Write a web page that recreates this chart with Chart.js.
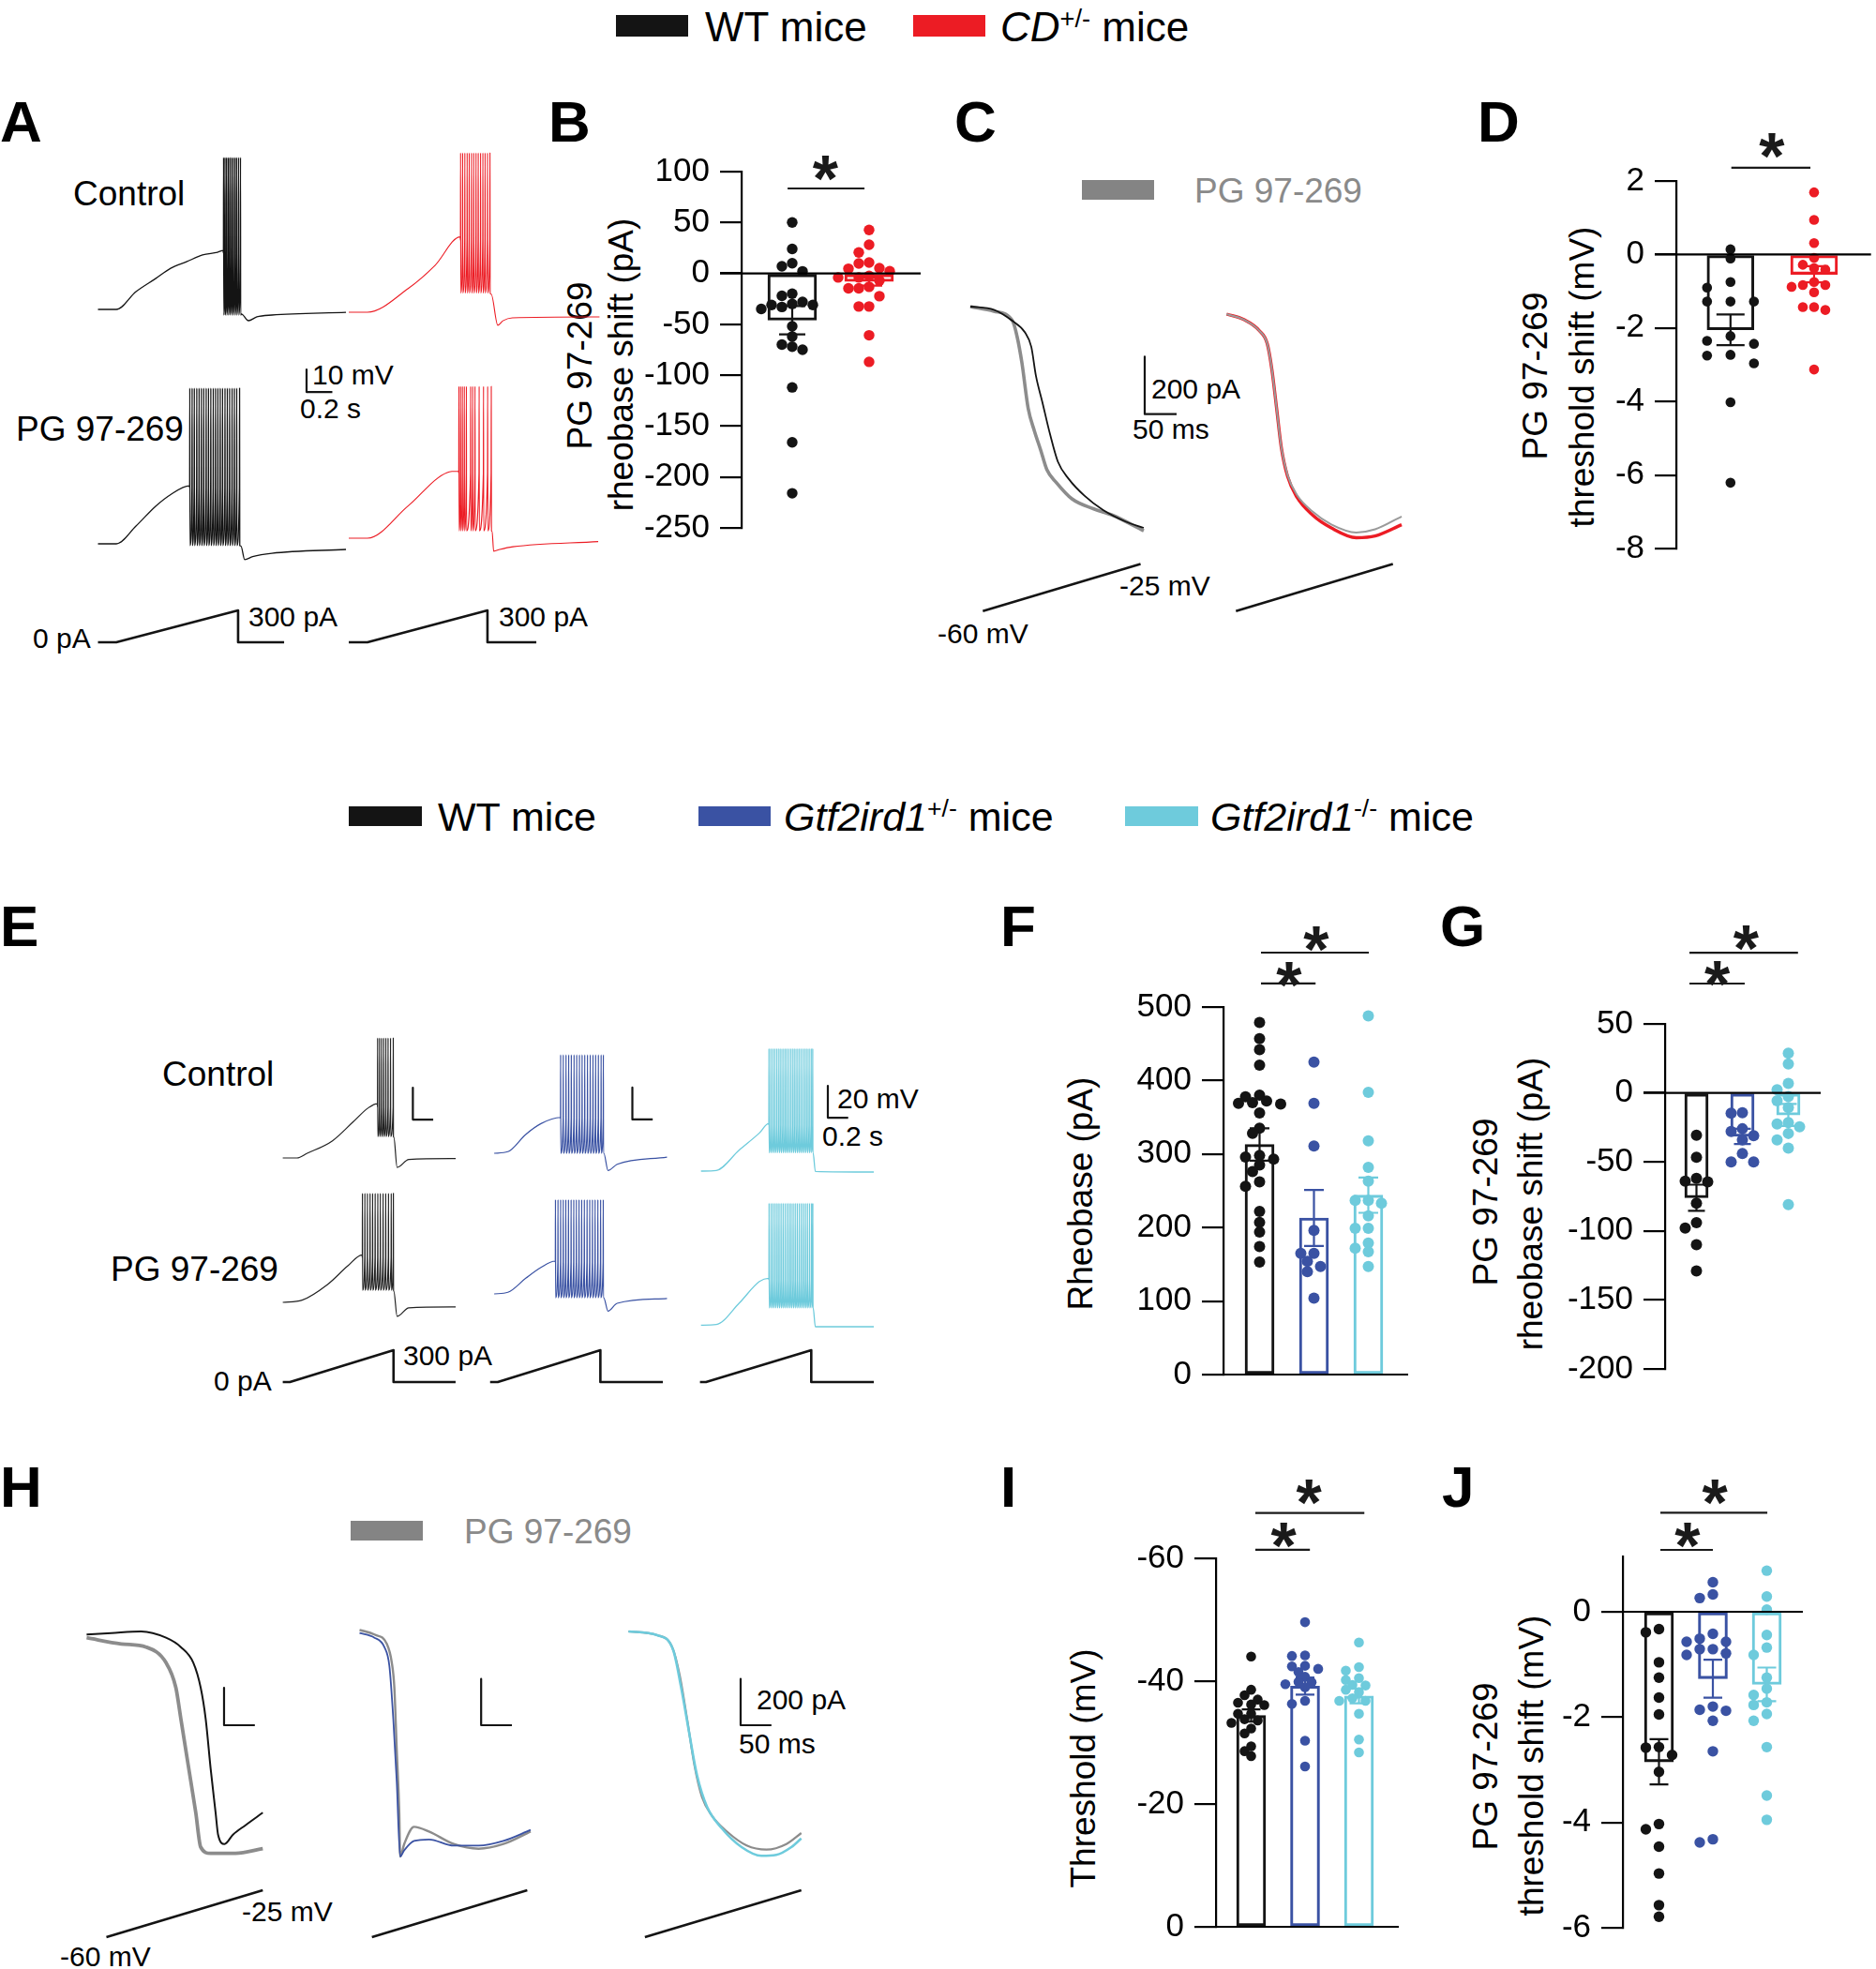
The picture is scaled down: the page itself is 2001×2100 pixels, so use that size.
<!DOCTYPE html>
<html><head><meta charset="utf-8">
<script src="https://cdn.jsdelivr.net/npm/chart.js@4.4.0/dist/chart.umd.min.js"></script>
<style>
html,body{margin:0;padding:0;background:#fff;width:2001px;height:2100px;overflow:hidden;}
body{position:relative;font-family:'Liberation Sans',Arial,Helvetica,sans-serif;color:#000;}
canvas{position:absolute;}
.t{position:absolute;white-space:nowrap;line-height:1;}
.r{position:absolute;white-space:nowrap;line-height:1;transform:translate(-50%,-50%) rotate(-90deg);font-size:37px;}
.sw{position:absolute;}
.L{position:absolute;font-weight:bold;line-height:1;font-size:62px;}
sup{font-size:0.62em;vertical-align:0.55em;line-height:0;}
</style></head><body>
<script>
// ===================== DATA =====================
// ---- B: PG 97-269 rheobase shift (pA) ----
const bWT = [50, 24, 10, 7, 2, -20, -22, -28, -30, -31, -31, -35, -33, -52, -62, -70, -75, -72, -112, -166, -216];
const bCD = [42.7, 28.2, 20.6, 10.7, 9.8, 5.2, 4.6, 2.1, -2.5, -4, -7, -4, -14.7, -14.7, -13.2, -22.4, -32.5, -32.5, -60.8, -86.9];
const bMean = [-46, -8];
const bSem = [14, 4];
const bTicks = [100, 50, 0, -50, -100, -150, -200, -250];
// ---- D: PG 97-269 threshold shift (mV) ----
const dWT = [0.14, -0.11, -0.9, -0.75, -1.28, -1.28, -1.28, -2.35, -2.43, -2.22, -2.73, -2.96, -2.75, -4.02, -6.21];
const dCD = [1.69, 0.94, 0.31, -0.09, -0.37, -0.41, -0.28, -0.75, -0.88, -0.83, -0.83, -1.03, -1.43, -1.51, -1.43, -3.13];
const dMean = [-2.05, -0.54];
const dSem = [0.42, 0.22];
const dTicks = [2, 0, -2, -4, -6, -8];
// ---- F: Rheobase (pA) ----
const fWT = [479, 457, 442, 421, 380, 378, 372, 370, 369, 368, 356, 335, 328, 298, 296, 293, 285, 276, 262, 256, 222, 207, 194, 174, 153];
const fHet = [425, 369, 311, 196, 154, 165, 165, 140, 147, 104];
const fKO = [488, 384, 318, 282, 263, 237, 233, 237, 216, 199, 199, 179, 172, 167, 147];
const fMean = [313, 213, 244];
const fSem = [22, 38, 24];
const fTicks = [500, 400, 300, 200, 100, 0];
// ---- G: PG 97-269 rheobase shift (pA) ----
const gWT = [-30.6, -46.6, -62, -64.5, -64, -80, -98, -94, -110, -129];
const gHet = [-14.7, -14.3, -26, -28, -31, -34, -44, -50, -50];
const gKO = [28.8, 21, 6.8, 2.3, -5.7, -2.7, -10.6, -22.6, -21.5, -24.5, -29.4, -34, -40, -81];
const gMean = [-76, -31.5, -16];
const gSem = [9.5, 5.5, 8];
const gTicks = [50, 0, -50, -100, -150, -200];
// ---- I: Threshold (mV) ----
const iWT = [-44, -38.6, -37.7, -37, -36.1, -36.2, -36.5, -34.7, -33.8, -34.7, -33.6, -33.2, -32.3, -31.5, -29.4, -27.8, -28.6];
const iHet = [-49.6, -44.1, -44.2, -42.5, -42.4, -42, -41.5, -40.7, -39.8, -39.9, -39.5, -39, -36.8, -36.3, -30.3, -26.1];
const iKO = [-46.3, -42.3, -41.7, -40.2, -40.5, -39.3, -39.4, -38.2, -38.6, -36.8, -36.8, -37.2, -34.7, -30.5, -28.4];
const iMean = [-34.4, -39.2, -37.6];
const iSem = [1.0, 1.4, 1.2];
const iTicks = [-60, -40, -20, 0];
// ---- J: PG 97-269 threshold shift (mV) ----
const jWT = [-0.39, -0.33, -0.96, -1.25, -1.63, -1.95, -2.58, -2.57, -2.72, -3.04, -4.03, -4.13, -4.46, -4.97, -5.57, -5.79];
const jHet = [0.56, 0.26, 0.33, -0.42, -0.57, -0.51, -0.57, -0.71, -0.79, -0.71, -0.82, -1.88, -1.8, -1.86, -2.07, -2.65, -4.38, -4.32];
const jKO = [0.78, 0.29, 0.04, -0.44, -0.68, -0.82, -1.25, -1.46, -1.58, -1.72, -1.77, -1.94, -2.07, -2.57, -3.49, -3.95];
const jMean = [-2.85, -1.27, -1.38];
const jSem = [0.43, 0.36, 0.32];
const jTicks = [0, -2, -4, -6];

// ---- A: current-clamp traces (time ms, membrane potential mV) ----
const aWtCtrlPre = [[0,-70],[142,-70],[295,-62.1],[447,-56.3],[564,-51.7],[687,-48.8],[811,-45.8],[927,-44.6],[971,-43.8]];
const aWtCtrlSpikes = [973,984,996,1009,1021,1034,1047,1061,1074,1089,1104];
const aWtCtrlLevels = [-45, -2.5, -72.5];           // threshold, peak, trough
const aWtCtrlPost = [[1112,-72],[1167,-75],[1233,-73.3],[1349,-72.5],[1924,-71.3]];
const aWtPgPre = [[0,-70],[142,-70],[295,-62.1],[447,-53.3],[564,-48.1],[709,-44.2]];
const aWtPgSpikes = [711,729,746,765,783,801,819,838,856,874,893,911,929,947,965,984,1002,1020,1039,1057,1075,1097];
const aWtPgLevels = [-45, -0.8, -70.8];
const aWtPgPost = [[1109,-71],[1138,-77],[1200,-75.7],[1349,-74.2],[1924,-72.5]];
const aCdCtrlPre = [[0,-70],[145,-70],[458,-59.6],[669,-49.2],[865,-36.5]];
const aCdCtrlSpikes = [866,882,899,917,933,951,968,986,1003,1021,1039,1056,1075,1094];
const aCdCtrlLevels = [-38, 0.8, -61.5];
const aCdCtrlPost = [[1105,-62],[1156,-75.8],[1196,-73.8],[1269,-72.5],[1945,-72.1]];
const aCdPgPre = [[0,-70],[145,-70],[458,-55.8],[764,-40.8],[851,-40.2]];
const aCdPgSpikes = [853,866,880,895,911,944,960,978,1010,1044,1076,1104];
const aCdPgLevels = [-41, -2.5, -66.7];
const aCdPgPost = [[1112,-67],[1124,-75.8],[1171,-75],[1273,-73.8],[1935,-71.5]];
const aWtStim = [[0,0],[142,0],[1087,300],[1087,0],[1444,0]];   // pA
const aCdStim = [[0,0],[145,0],[1076,300],[1076,0],[1455,0]];
const aScaleBar = [[1618,-96.7],[1618,-106.7],[1818,-106.7]];  // 10 mV / 200 ms

// ---- C: voltage-ramp currents (time ms, current pA) ----
const cWtCtrl = [[0,0],[36.8,-11],[66.2,-50],[85.7,-90],[95.6,-140],[102.9,-241],[112.8,-331],[125,-444],[137.2,-539],[154.4,-600],[178.9,-658],[208.3,-708],[242.6,-747],[272,-770]];
const cWtPg = [[0,0],[36.8,-16],[66.2,-50],[73.5,-106],[80.9,-196],[90.7,-354],[100.4,-432],[110.3,-499],[120.1,-568],[134.8,-612],[159.3,-669],[193.6,-704],[223,-726],[272,-780]];
const cCdCtrl = [[0,0],[27,-19],[51.5,-58],[63.8,-103],[71.1,-193],[78.5,-328],[85.8,-463],[95.6,-564],[110.3,-637],[134.8,-699],[164.3,-744],[203.5,-778],[233,-772],[274.6,-733]];
const cCdPg = [[0,0],[27,-19],[51.5,-58],[63.8,-103],[71.1,-193],[78.5,-328],[85.8,-463],[95.6,-560],[110.3,-629],[134.8,-687],[164.3,-732],[203.5,-760],[233,-749],[274.6,-704]];
const cRampWt = [[19.6,-60],[267,-25]];   // mV
const cRampCd = [[14.7,-60],[260.9,-25]];
const cScaleBar = [[273.5,-174.2],[273.5,-374.2],[323.5,-374.2]]; // 200 pA / 50 ms

// ---- E: current-clamp traces (time ms, mV) ----
const eWtCtrlPre = [[0,-70],[140,-70],[240,-67.1],[489,-59.2],[689,-47.5],[840,-38.6],[929,-35.9]];
const eWtCtrlSpikes = [931,950,970,991,1012,1034,1058,1085];
const eWtCtrlLevels = [-38, 5.3, -56.5];
const eWtCtrlPost = [[1092,-57],[1124,-75.9],[1239,-71],[1700,-70.4]];
const eWtPgPre = [[0,-70],[190,-68.6],[440,-58.8],[640,-47.1],[780,-40.2]];
const eWtPgSpikes = [782,806,831,857,882,907,933,958,985,1011,1038,1065,1086];
const eWtPgLevels = [-42, -1.6, -62.4];
const eWtPgPost = [[1092,-63],[1124,-78.8],[1239,-73.5],[1700,-72.9]];
const eHetCtrlPre = [[0,-70],[135,-69],[310,-58.2],[460,-51.4],[650,-47.5]];
const eHetCtrlSpikes = [652,678,705,731,757,784,810,837,863,889,916,943,970,996,1023,1050,1072];
const eHetCtrlLevels = [-48, -8.2, -70];
const eHetCtrlPost = [[1078,-70],[1119,-80.8],[1209,-76.9],[1699,-72.4]];
const eHetPgPre = [[0,-70],[135,-69],[310,-60.2],[460,-53.4],[599,-49.4]];
const eHetPgSpikes = [601,626,652,678,703,729,755,781,807,833,859,885,912,938,965,991,1018,1045,1071];
const eHetPgLevels = [-50, -10.8, -72.4];
const eHetPgPost = [[1077,-72.4],[1119,-80.8],[1209,-75.9],[1699,-72.9]];
const eKoCtrlPre = [[0,-70],[150,-69.6],[374,-56.9],[574,-46.1],[665,-40.2]];
const eKoCtrlSpikes = [667,686,706,725,745,765,784,804,824,843,863,883,903,922,942,962,982,1002,1022,1042,1062,1082,1097];
const eKoCtrlLevels = [-41, 6.9, -58.4];
const eKoCtrlPost = [[1102,-58.4],[1124,-70.2],[1699,-70.6]];
const eKoPgPre = [[0,-70],[150,-69.6],[374,-56.3],[574,-42.6],[665,-40.6]];
const eKoPgSpikes = [668,688,707,727,747,766,786,806,826,846,866,885,905,925,945,965,985,1005,1025,1045,1066,1086,1098];
const eKoPgLevels = [-41.5, 6.5, -59.2];
const eKoPgPost = [[1103,-59.2],[1124,-71],[1699,-71]];
const eWtStim = [[0,0],[70,0],[1089,300],[1089,0],[1699,0]];
const eHetStim = [[-40,0],[35,0],[1044,300],[1044,0],[1658,0]];
const eKoStim = [[-10,0],[49,0],[1084,300],[1084,0],[1699,0]];
const eWtScaleBar = [[1279,-25.9],[1279,-45.9],[1479,-45.9]];   // 20 mV / 200 ms
const eHetScaleBar = [[1358.5,-28.8],[1358.5,-48.8],[1558.5,-48.8]];
const eKoScaleBar = [[1247,-16.5],[1247,-36.5],[1447,-36.5]];

// ---- H: voltage-ramp currents (time ms, pA) ----
const hWt = [[0,0],[40.2,6.5],[88.6,13.4],[128.9,-13.8],[153,-54.3],[173.2,-121.6],[185.2,-229.8],[193.3,-364.8],[201.4,-581.3],[209.4,-770.2],[213.4,-865],[223.9,-905.6],[237.6,-865],[257.8,-824.5],[286,-770.2]];
const hWtPg = [[0,-13.8],[56.3,-40.5],[96.7,-54.3],[128.9,-121.6],[144.9,-229.8],[153,-364.8],[165.1,-567.5],[177.2,-770.2],[185.2,-919],[201.4,-946],[241.7,-946],[286,-925.8]];
const hHet = [[0,-13.4],[24.2,-33.8],[40.3,-74.4],[48.4,-155.4],[54.8,-385],[60.4,-655.3],[66,-980],[72.5,-953],[88.5,-912.4],[112.7,-905.9],[153,-932.7],[193.3,-932.7],[233.5,-912.4],[277.8,-865]];
const hHetPg = [[0,0],[24.2,-20.3],[44.3,-60.8],[52.4,-141.9],[56.5,-250],[60.4,-520.5],[64.5,-790.8],[66,-980],[72.5,-926],[88.5,-851.4],[112.7,-871.7],[153,-925.8],[193.3,-946],[233.5,-925.8],[277.8,-871.7]];
const hKo = [[0,0],[46.7,-16.2],[72.6,-81.1],[85.5,-243.2],[99,-445.9],[111.2,-621.4],[127.3,-756.8],[151.5,-851.2],[183.6,-932.3],[215.8,-970],[240,-966],[264.3,-932.3],[280.5,-894.6]];
const hKoPg = [[0,0],[46.7,-16.2],[70.9,-67.7],[83.1,-189.3],[95.1,-378.2],[107.2,-580.9],[119.3,-716.3],[135.5,-797.3],[159.5,-864.6],[191.8,-925.4],[224,-943.2],[256.3,-918.9],[280.5,-871.5]];
const hRampWt = [[32.1,-60],[286,-25]];
const hRampHet = [[20.1,-60],[272.3,-25]];
const hRampKo = [[26.6,-60],[280.5,-25]];
const hWtScaleBar = [[223.1,-230],[223.1,-392],[273.1,-392]];
const hHetScaleBar = [[197.4,-212.4],[197.4,-412.2],[247.4,-412.2]];
const hKoScaleBar = [[182,-205.5],[182,-405.3],[232,-405.3]];

// ===================== STYLE =====================
const BLACK = '#141414', RED = '#ec1c24', BLUE = '#3a52a3', CYAN = '#6ecbdc', GRAY = '#8c8c8c';
Chart.defaults.font.family = "'Liberation Sans', Arial, Helvetica, sans-serif";
Chart.defaults.color = '#000';
Chart.defaults.animation = false;

const DECOR = {};
Chart.register({
  id: 'decor',
  afterDatasetsDraw(chart) {
    const o = DECOR[chart.canvas.id];
    if (!o) return;
    const ctx = chart.ctx, xs = chart.scales.x, ys = chart.scales.y, ca = chart.chartArea;
    ctx.save();
    ctx.lineCap = 'butt';
    const y0 = ys.getPixelForValue(0);
    ctx.strokeStyle = '#000'; ctx.lineWidth = 2.2;
    ctx.beginPath(); ctx.moveTo(ca.left - 23, y0); ctx.lineTo(ca.right, y0); ctx.stroke();
    o.means.forEach((m, i) => {
      const cx = xs.getPixelForValue(i);
      const y1 = ys.getPixelForValue(m - o.sems[i]), y2 = ys.getPixelForValue(m + o.sems[i]);
      ctx.strokeStyle = o.colors[i]; ctx.lineWidth = 2.2;
      ctx.beginPath();
      ctx.moveTo(cx, y1); ctx.lineTo(cx, y2);
      ctx.moveTo(cx - o.cap / 2, y1); ctx.lineTo(cx + o.cap / 2, y1);
      ctx.moveTo(cx - o.cap / 2, y2); ctx.lineTo(cx + o.cap / 2, y2);
      ctx.stroke();
    });
    ctx.strokeStyle = '#1a1a1a'; ctx.lineWidth = 2.2;
    o.sig.lines.forEach(([a, b, v]) => {
      const y = ys.getPixelForValue(v);
      ctx.beginPath(); ctx.moveTo(xs.getPixelForValue(a), y); ctx.lineTo(xs.getPixelForValue(b), y); ctx.stroke();
    });
    ctx.fillStyle = '#1a1a1a';
    ctx.font = "bold 70px 'Liberation Sans', Arial, sans-serif";
    ctx.textAlign = 'center'; ctx.textBaseline = 'alphabetic';
    o.sig.stars.forEach(([a, v]) => {
      ctx.fillText('*', xs.getPixelForValue(a), ys.getPixelForValue(v) + 0.565 * 70);
    });
    ctx.restore();
  }
});

let cvCount = 0;
function mkCanvas(L, T, W, H) {
  const c = document.createElement('canvas');
  c.id = 'cv' + (cvCount++);
  c.width = Math.round(W); c.height = Math.round(H);
  c.style.left = L + 'px'; c.style.top = T + 'px';
  c.style.width = Math.round(W) + 'px'; c.style.height = Math.round(H) + 'px';
  document.body.appendChild(c);
  return c;
}

function swarm(chart, groups, steps, r, ov) {
  const xs = chart.scales.x, ys = chart.scales.y;
  const minD = 2 * r * ov;
  groups.forEach((vals, gi) => {
    const cx = xs.getPixelForValue(gi), step = steps[gi];
    const list = vals.map(v => ({ v, py: ys.getPixelForValue(v) })).sort((a, b) => a.py - b.py);
    const placed = [];
    list.forEach(p => {
      for (let k = 0; k < 80; k++) {
        const n = Math.ceil(k / 2), off = k === 0 ? 0 : (k % 2 ? -n : n) * step;
        const px = cx + off;
        if (placed.every(q => Math.hypot(q.px - px, q.py - p.py) >= minD)) { p.px = px; placed.push(p); break; }
      }
    });
    chart.data.datasets[gi].data = list.map(p => ({ x: xs.getValueForPixel(p.px), y: p.v }));
  });
  chart.update('none');
}

function barPanel(p) {
  const axisW = 160, padT = 130, padB = 40, padR = p.padR !== undefined ? p.padR : 12;
  const left = p.axisX - axisW, top = p.yTop - padT;
  const W = p.right + padR - left, H = p.yBot + padB - top;
  const cv = mkCanvas(left, top, W, H);
  const xmin = -(p.c0 - p.axisX) / p.step, xmax = (p.right - p.c0) / p.step;
  const datasets = p.groups.map((vals, i) => ({
    type: 'scatter', data: vals.map(v => ({ x: i, y: v })), backgroundColor: p.colors[i],
    borderWidth: 0, pointRadius: p.r, pointHoverRadius: p.r, order: 1, clip: false
  }));
  datasets.push({
    type: 'bar', data: p.means.map((m, i) => ({ x: i, y: m })), backgroundColor: 'rgba(255,255,255,0)',
    borderColor: p.colors, borderWidth: 2.4, borderSkipped: false, barThickness: p.barW, order: 2, clip: false
  });
  DECOR[cv.id] = { means: p.means, sems: p.sems, colors: p.colors, cap: p.cap, sig: p.sig };
  const chart = new Chart(cv, {
    type: 'scatter', data: { datasets },
    options: {
      responsive: false, animation: false, devicePixelRatio: 1,
      layout: { padding: { left: 0, top: padT, right: padR, bottom: padB } },
      plugins: { legend: { display: false }, tooltip: { enabled: false } },
      scales: {
        x: { type: 'linear', display: false, min: xmin, max: xmax, offset: false },
        y: {
          type: 'linear', min: p.min, max: p.max, reverse: !!p.reverse,
          afterFit: s => { s.width = axisW; },
          afterBuildTicks: s => { s.ticks = p.ticks.map(v => ({ value: v })); },
          ticks: { font: { size: 35 }, color: '#000', padding: 11, autoSkip: false, callback: v => String(v) },
          grid: { drawOnChartArea: false, drawTicks: true, tickLength: 23, color: '#000', lineWidth: 2.2 },
          border: { display: true, color: '#000', width: 2.2 }
        }
      }
    }
  });
  swarm(chart, p.groups, p.sw, p.r, p.ov || 0.92);
  return chart;
}

function P(a) { return a.map(([x, y]) => ({ x, y })); }
function train(pre, spikes, lv, post) {
  const out = P(pre);
  spikes.forEach(t => { out.push({ x: t, y: lv[0] }, { x: t + 1.5, y: lv[1] }, { x: t + 3, y: lv[2] }); });
  return out.concat(P(post));
}
function ln(data, color, w, axis, smooth) {
  return { data, borderColor: color, backgroundColor: color, borderWidth: w, showLine: true, pointRadius: 0,
    pointHoverRadius: 0, yAxisID: axis || 'y', borderJoinStyle: 'round', fill: false, clip: false,
    cubicInterpolationMode: smooth ? 'monotone' : 'default', tension: 0 };
}
function traceChart(rect, xo, ymaps, datasets) {
  const [L, T, W, H] = rect;
  const cv = mkCanvas(L, T, W, H);
  const scales = { x: { type: 'linear', display: false, min: (L - xo.px) / xo.s, max: (L + W - xo.px) / xo.s } };
  for (const id of Object.keys(ymaps)) {
    const m = ymaps[id];
    scales[id] = { type: 'linear', display: false, position: 'left',
      max: m.v + (m.px - T) / m.s, min: m.v - (T + H - m.px) / m.s };
  }
  return new Chart(cv, { type: 'scatter', data: { datasets },
    options: { responsive: false, animation: false, devicePixelRatio: 1, layout: { padding: 0 },
      plugins: { legend: { display: false }, tooltip: { enabled: false } }, scales } });
}

// ===================== TEXT HELPERS =====================
function txt(html, left, cy, size, extra) {
  const d = document.createElement('div'); d.className = 't'; d.innerHTML = html;
  d.style.left = left + 'px'; d.style.top = (cy - 0.49 * size) + 'px'; d.style.fontSize = size + 'px';
  if (extra) Object.assign(d.style, extra);
  document.body.appendChild(d);
}
function rtxt(text, cx, cy) {
  const d = document.createElement('div'); d.className = 'r'; d.textContent = text;
  d.style.left = cx + 'px'; d.style.top = cy + 'px'; document.body.appendChild(d);
}
function sw(l, t, w, h, c) {
  const d = document.createElement('div'); d.className = 'sw';
  Object.assign(d.style, { left: l + 'px', top: t + 'px', width: w + 'px', height: h + 'px', background: c });
  document.body.appendChild(d);
}
function letter(ch, l, cy) {
  const d = document.createElement('div'); d.className = 'L'; d.textContent = ch;
  d.style.left = l + 'px'; d.style.top = (cy - 0.49 * 62) + 'px'; document.body.appendChild(d);
}

// ===================== LEGENDS & LABELS =====================
sw(657, 16, 77, 23, BLACK); txt('WT mice', 752, 29, 44);
sw(974, 16, 77, 23, RED); txt('<i>CD</i><sup>+/-</sup> mice', 1067, 29, 44);
sw(372, 860, 78, 21, BLACK); txt('WT mice', 467, 871, 43);
sw(745, 860, 77, 21, BLUE); txt('<i>Gtf2ird1</i><sup>+/-</sup> mice', 836, 871, 43);
sw(1200, 860, 78, 21, CYAN); txt('<i>Gtf2ird1</i><sup>-/-</sup> mice', 1291, 871, 43);

letter('A', 0, 129); letter('B', 585, 129); letter('C', 1018, 129); letter('D', 1576, 129);
letter('E', 0, 987); letter('F', 1067, 987); letter('G', 1536, 987);
letter('H', 0, 1585); letter('I', 1067, 1585); letter('J', 1538, 1585);

// A labels
txt('Control', 78, 206, 37); txt('PG 97-269', 17, 457, 37);
txt('10 mV', 333, 400, 30); txt('0.2 s', 320, 436, 30);
txt('0 pA', 35, 681, 30); txt('300 pA', 265, 658, 30); txt('300 pA', 532, 658, 30);
// C labels
sw(1154, 192, 77, 21, '#848484'); txt('PG 97-269', 1274, 203, 37, { color: '#8a8a8a' });
txt('200 pA', 1228, 415, 30); txt('50 ms', 1208, 458, 30);
txt('-25 mV', 1194, 625, 30); txt('-60 mV', 1000, 676, 30);
// E labels
txt('Control', 173, 1145, 37); txt('PG 97-269', 118, 1353, 37);
txt('20 mV', 893, 1172, 30); txt('0.2 s', 877, 1212, 30);
txt('0 pA', 228, 1473, 30); txt('300 pA', 430, 1446, 30);
// H labels
sw(374, 1622, 77, 21, '#848484'); txt('PG 97-269', 495, 1633, 37, { color: '#8a8a8a' });
txt('200 pA', 807, 1813, 30); txt('50 ms', 788, 1860, 30);
txt('-25 mV', 258, 2039, 30); txt('-60 mV', 64, 2087, 30);

// axis titles
rtxt('PG 97-269', 618, 390); rtxt('rheobase shift (pA)', 662, 389);
rtxt('PG 97-269', 1637, 401); rtxt('threshold shift (mV)', 1687, 402);
rtxt('Rheobase (pA)', 1152, 1273);
rtxt('PG 97-269', 1584, 1282); rtxt('rheobase shift (pA)', 1632, 1284);
rtxt('Threshold (mV)', 1155, 1886);
rtxt('PG 97-269', 1584, 1884); rtxt('threshold shift (mV)', 1633, 1883);

// ===================== BAR / SCATTER PANELS =====================
barPanel({ axisX: 791, right: 982, c0: 845, step: 82, yTop: 183, yBot: 563, max: 100, min: -250, ticks: bTicks,
  barW: 52, cap: 28, r: 5.7, sw: [11, 11], colors: [BLACK, RED], groups: [bWT, bCD], means: bMean, sems: bSem,
  sig: { lines: [[-0.06, 0.94, 83.4]], stars: [[0.43, 106.5]] } });
barPanel({ axisX: 1788, right: 2000, c0: 1847, step: 91, yTop: 193, yBot: 585, max: 2, min: -8, ticks: dTicks,
  barW: 50, cap: 30, r: 5.3, sw: [25, 12], padR: 1, colors: [BLACK, RED], groups: [dWT, dCD], means: dMean, sems: dSem,
  sig: { lines: [[0.01, 0.956, 2.36]], stars: [[0.495, 3.05]] } });
barPanel({ axisX: 1305, right: 1502, c0: 1343.5, step: 58, yTop: 1074, yBot: 1466, max: 500, min: 0, ticks: fTicks,
  barW: 31, cap: 21, r: 6, sw: [7.5, 7, 7], ov: 0.75, colors: [BLACK, BLUE, CYAN], groups: [fWT, fHet, fKO], means: fMean, sems: fSem,
  sig: { lines: [[0.026, 2.01, 574], [0.026, 1.03, 532]], stars: [[1.04, 597.6], [0.54, 549.7]] } });
barPanel({ axisX: 1776, right: 1942, c0: 1809.5, step: 49, yTop: 1092, yBot: 1460, max: 50, min: -200, ticks: gTicks,
  barW: 25, cap: 18, r: 6, sw: [12, 12, 12], colors: [BLACK, BLUE, CYAN], groups: [gWT, gHet, gKO], means: gMean, sems: gSem,
  sig: { lines: [[-0.153, 2.21, 101.6], [-0.153, 1.05, 79.2]], stars: [[1.08, 114.7], [0.45, 89]] } });
barPanel({ axisX: 1297, right: 1492, c0: 1334.5, step: 57.5, yTop: 1662, yBot: 2055, max: 0, min: -60, reverse: true, ticks: iTicks,
  barW: 31, cap: 20, r: 5.3, sw: [7, 7, 7], ov: 0.8, colors: [BLACK, BLUE, CYAN], groups: [iWT, iHet, iKO], means: iMean, sems: iSem,
  sig: { lines: [[0.078, 2.1, -67.4], [0.078, 1.09, -61.4]], stars: [[1.07, -71.4], [0.6, -64.4]] } });
barPanel({ axisX: 1731, right: 1923, c0: 1769.5, step: 57.5, yTop: 1660, yBot: 2056, max: 1.05, min: -6, ticks: jTicks,
  barW: 31, cap: 20, r: 5.7, sw: [14, 14, 14], colors: [BLACK, BLUE, CYAN], groups: [jWT, jHet, jKO], means: jMean, sems: jSem,
  sig: { lines: [[0.026, 2.01, 1.88], [0.026, 1.0, 1.175]], stars: [[1.035, 2.34], [0.53, 1.53]] } });

// ===================== TRACE PANELS =====================
// A
traceChart([80, 150, 300, 560], { px: 104.5, s: 0.1375 },
  { y: { px: 330, v: -70, s: 2.4 }, y2: { px: 580, v: -70, s: 2.4 }, y3: { px: 685, v: 0, s: 0.11333 } },
  [ln(train(aWtCtrlPre, aWtCtrlSpikes, aWtCtrlLevels, aWtCtrlPost), BLACK, 1.3, 'y', true),
   ln(train(aWtPgPre, aWtPgSpikes, aWtPgLevels, aWtPgPost), BLACK, 1.3, 'y2', true),
   ln(P(aWtStim), BLACK, 2.6, 'y3'),
   ln(P(aScaleBar), BLACK, 2.2, 'y')]);
traceChart([360, 150, 300, 560], { px: 372, s: 0.1375 },
  { y: { px: 333, v: -70, s: 2.4 }, y2: { px: 574, v: -70, s: 2.4 }, y3: { px: 685, v: 0, s: 0.11333 } },
  [ln(train(aCdCtrlPre, aCdCtrlSpikes, aCdCtrlLevels, aCdCtrlPost), RED, 1.1, 'y', true),
   ln(train(aCdPgPre, aCdPgSpikes, aCdPgLevels, aCdPgPost), RED, 1.1, 'y2', true),
   ln(P(aCdStim), BLACK, 2.6, 'y3')]);
// C
traceChart([1020, 300, 290, 380], { px: 1035, s: 0.68 },
  { y: { px: 327, v: 0, s: 0.3065 }, y2: { px: 651.7, v: -60, s: 1.434 } },
  [ln(P(cWtCtrl), BLACK, 1.8, 'y', true), ln(P(cWtPg), GRAY, 3.6, 'y', true),
   ln(P(cRampWt), BLACK, 2.6, 'y2'), ln(P(cScaleBar), BLACK, 2.2, 'y')]);
traceChart([1290, 300, 220, 380], { px: 1308.3, s: 0.68 },
  { y: { px: 335, v: 0, s: 0.3065 }, y2: { px: 651.7, v: -60, s: 1.434 } },
  [ln(P(cCdPg), '#9a9a9a', 2, 'y', true), ln(P(cCdCtrl), RED, 3.4, 'y', true),
   ln(P(cRampCd), BLACK, 2.6, 'y2')]);
// E
traceChart([285, 1090, 215, 400], { px: 301.6, s: 0.1085 },
  { y: { px: 1235, v: -70, s: 1.7 }, y2: { px: 1389, v: -70, s: 1.7 }, y3: { px: 1474, v: 0, s: 0.11333 } },
  [ln(train(eWtCtrlPre, eWtCtrlSpikes, eWtCtrlLevels, eWtCtrlPost), '#222', 1.2, 'y', true),
   ln(train(eWtPgPre, eWtPgSpikes, eWtPgLevels, eWtPgPost), '#222', 1.2, 'y2', true),
   ln(P(eWtStim), BLACK, 2.6, 'y3'), ln(P(eWtScaleBar), BLACK, 2.2, 'y')]);
traceChart([510, 1090, 210, 400], { px: 527.1, s: 0.1085 },
  { y: { px: 1230, v: -70, s: 1.7 }, y2: { px: 1380, v: -70, s: 1.7 }, y3: { px: 1474, v: 0, s: 0.11333 } },
  [ln(train(eHetCtrlPre, eHetCtrlSpikes, eHetCtrlLevels, eHetCtrlPost), BLUE, 1.2, 'y', true),
   ln(train(eHetPgPre, eHetPgSpikes, eHetPgLevels, eHetPgPost), BLUE, 1.2, 'y2', true),
   ln(P(eHetStim), BLACK, 2.6, 'y3'), ln(P(eHetScaleBar), BLACK, 2.2, 'y')]);
traceChart([735, 1090, 205, 400], { px: 747.7, s: 0.1085 },
  { y: { px: 1249, v: -70, s: 1.7 }, y2: { px: 1413.3, v: -70, s: 1.7 }, y3: { px: 1474, v: 0, s: 0.11333 } },
  [ln(train(eKoCtrlPre, eKoCtrlSpikes, eKoCtrlLevels, eKoCtrlPost), CYAN, 1.3, 'y', true),
   ln(train(eKoPgPre, eKoPgSpikes, eKoPgLevels, eKoPgPost), CYAN, 1.3, 'y2', true),
   ln(P(eKoStim), BLACK, 2.6, 'y3'), ln(P(eKoScaleBar), BLACK, 2.2, 'y')]);
// H
traceChart([80, 1720, 215, 360], { px: 92.4, s: 0.657 },
  { y: { px: 1743.3, v: 0, s: 0.2467 }, y2: { px: 2066, v: -60, s: 1.4286 } },
  [ln(P(hWt), BLACK, 2, 'y', true), ln(P(hWtPg), GRAY, 3.8, 'y', true),
   ln(P(hRampWt), BLACK, 2.6, 'y2'), ln(P(hWtScaleBar), BLACK, 2.2, 'y')]);
traceChart([372, 1720, 205, 360], { px: 383.5, s: 0.657 },
  { y: { px: 1738.3, v: 0, s: 0.2467 }, y2: { px: 2066, v: -60, s: 1.4286 } },
  [ln(P(hHet), BLUE, 1.8, 'y', true), ln(P(hHetPg), GRAY, 2.4, 'y', true),
   ln(P(hRampHet), BLACK, 2.6, 'y2'), ln(P(hHetScaleBar), BLACK, 2.2, 'y')]);
traceChart([660, 1720, 205, 360], { px: 670.4, s: 0.657 },
  { y: { px: 1740, v: 0, s: 0.2467 }, y2: { px: 2066, v: -60, s: 1.4286 } },
  [ln(P(hKo), CYAN, 2.6, 'y', true), ln(P(hKoPg), GRAY, 2.2, 'y', true),
   ln(P(hRampKo), BLACK, 2.6, 'y2'), ln(P(hKoScaleBar), BLACK, 2.2, 'y')]);
</script>
</body></html>
